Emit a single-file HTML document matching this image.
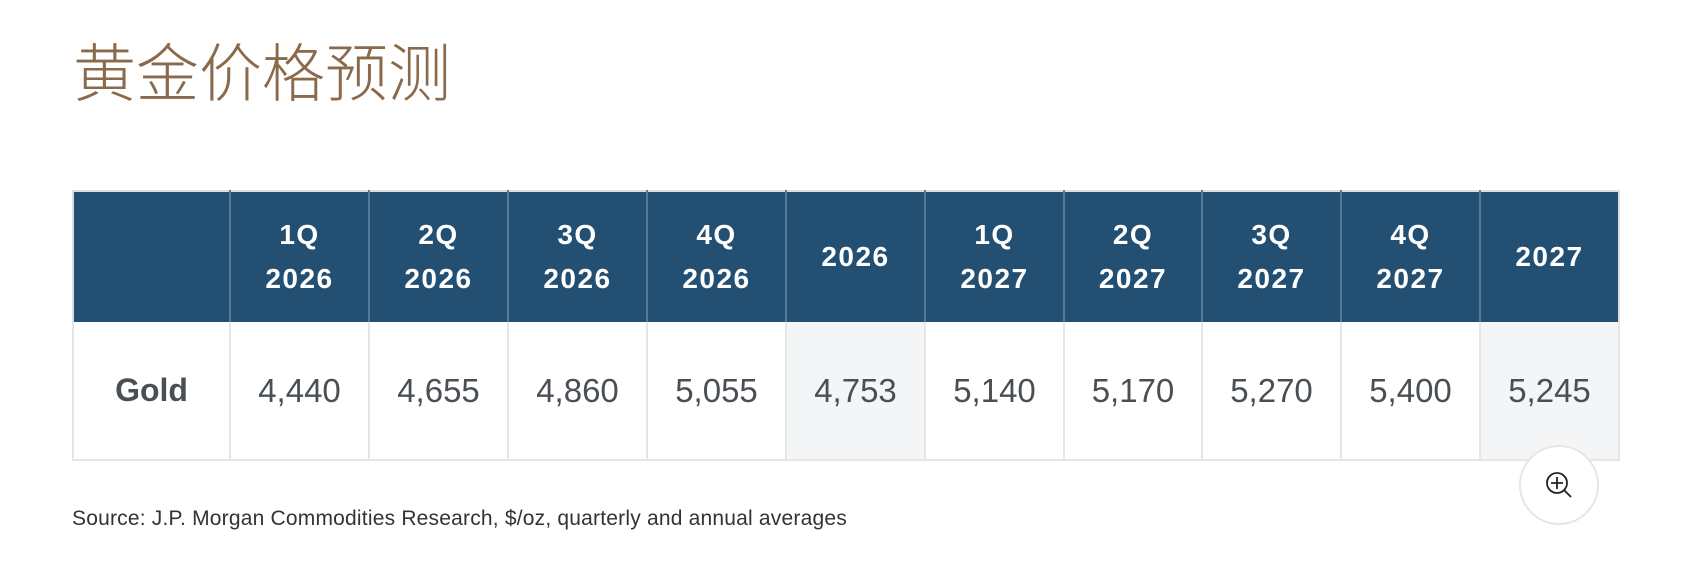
<!DOCTYPE html>
<html><head><meta charset="utf-8"><style>
body{margin:0;width:1684px;height:584px;background:#fff;position:relative;overflow:hidden;font-family:"Liberation Sans","Noto Sans CJK SC",sans-serif}
.title{position:absolute;left:73px;top:28px;font-size:63px;font-weight:300;color:#8b6a4c;font-family:"Noto Sans CJK SC","WenQuanYi Zen Hei",sans-serif;line-height:84px;letter-spacing:0px}
table{position:absolute;left:72px;top:190px;border-collapse:collapse;table-layout:fixed;border-top:2px solid #dcdee2}
td,th{padding:0;text-align:center}
th{background:#234f72;color:#fff;font-weight:bold;font-size:28px;letter-spacing:1.5px;height:130px;border-left:2px solid #56789a;line-height:44px}
th:first-child{border-left:2px solid #dcdee2}
th:last-child{border-right:2px solid #dcdee2}
td{height:137px;font-size:33px;color:#4a4f55;border:2px solid #e5e6e8;border-top:none}
td.g{font-weight:bold;font-size:32px}
td.a{background:#f4f5f7}
.src{position:absolute;left:72px;top:507px;font-size:21px;letter-spacing:0.2px;color:#333}
.zoom{position:absolute;left:1519px;top:445px;width:76px;height:76px;border:2px solid #e6e6e6;border-radius:50%;background:#fff}
</style></head><body>
<div class="title">黄金价格预测</div>
<table>
<colgroup><col style="width:157px"><col style="width:139px"><col style="width:139px"><col style="width:139px"><col style="width:139px"><col style="width:139px"><col style="width:139px"><col style="width:138px"><col style="width:139px"><col style="width:139px"><col style="width:139px"></colgroup>
<tr><th></th><th>1Q<br>2026</th><th>2Q<br>2026</th><th>3Q<br>2026</th><th>4Q<br>2026</th><th>2026</th><th>1Q<br>2027</th><th>2Q<br>2027</th><th>3Q<br>2027</th><th>4Q<br>2027</th><th>2027</th></tr>
<tr><td class="g">Gold</td><td>4,440</td><td>4,655</td><td>4,860</td><td>5,055</td><td class="a">4,753</td><td>5,140</td><td>5,170</td><td>5,270</td><td>5,400</td><td class="a">5,245</td></tr>
</table>
<div class="src">Source: J.P. Morgan Commodities Research, $/oz, quarterly and annual averages</div>
<div class="zoom"><svg width="76" height="76" viewBox="0 0 76 76"><circle cx="36" cy="36" r="10" fill="none" stroke="#222" stroke-width="1.8"/><path d="M36 30v12M30 36h12M43 43l7 7" stroke="#222" stroke-width="1.8" fill="none"/></svg></div>
</body></html>
